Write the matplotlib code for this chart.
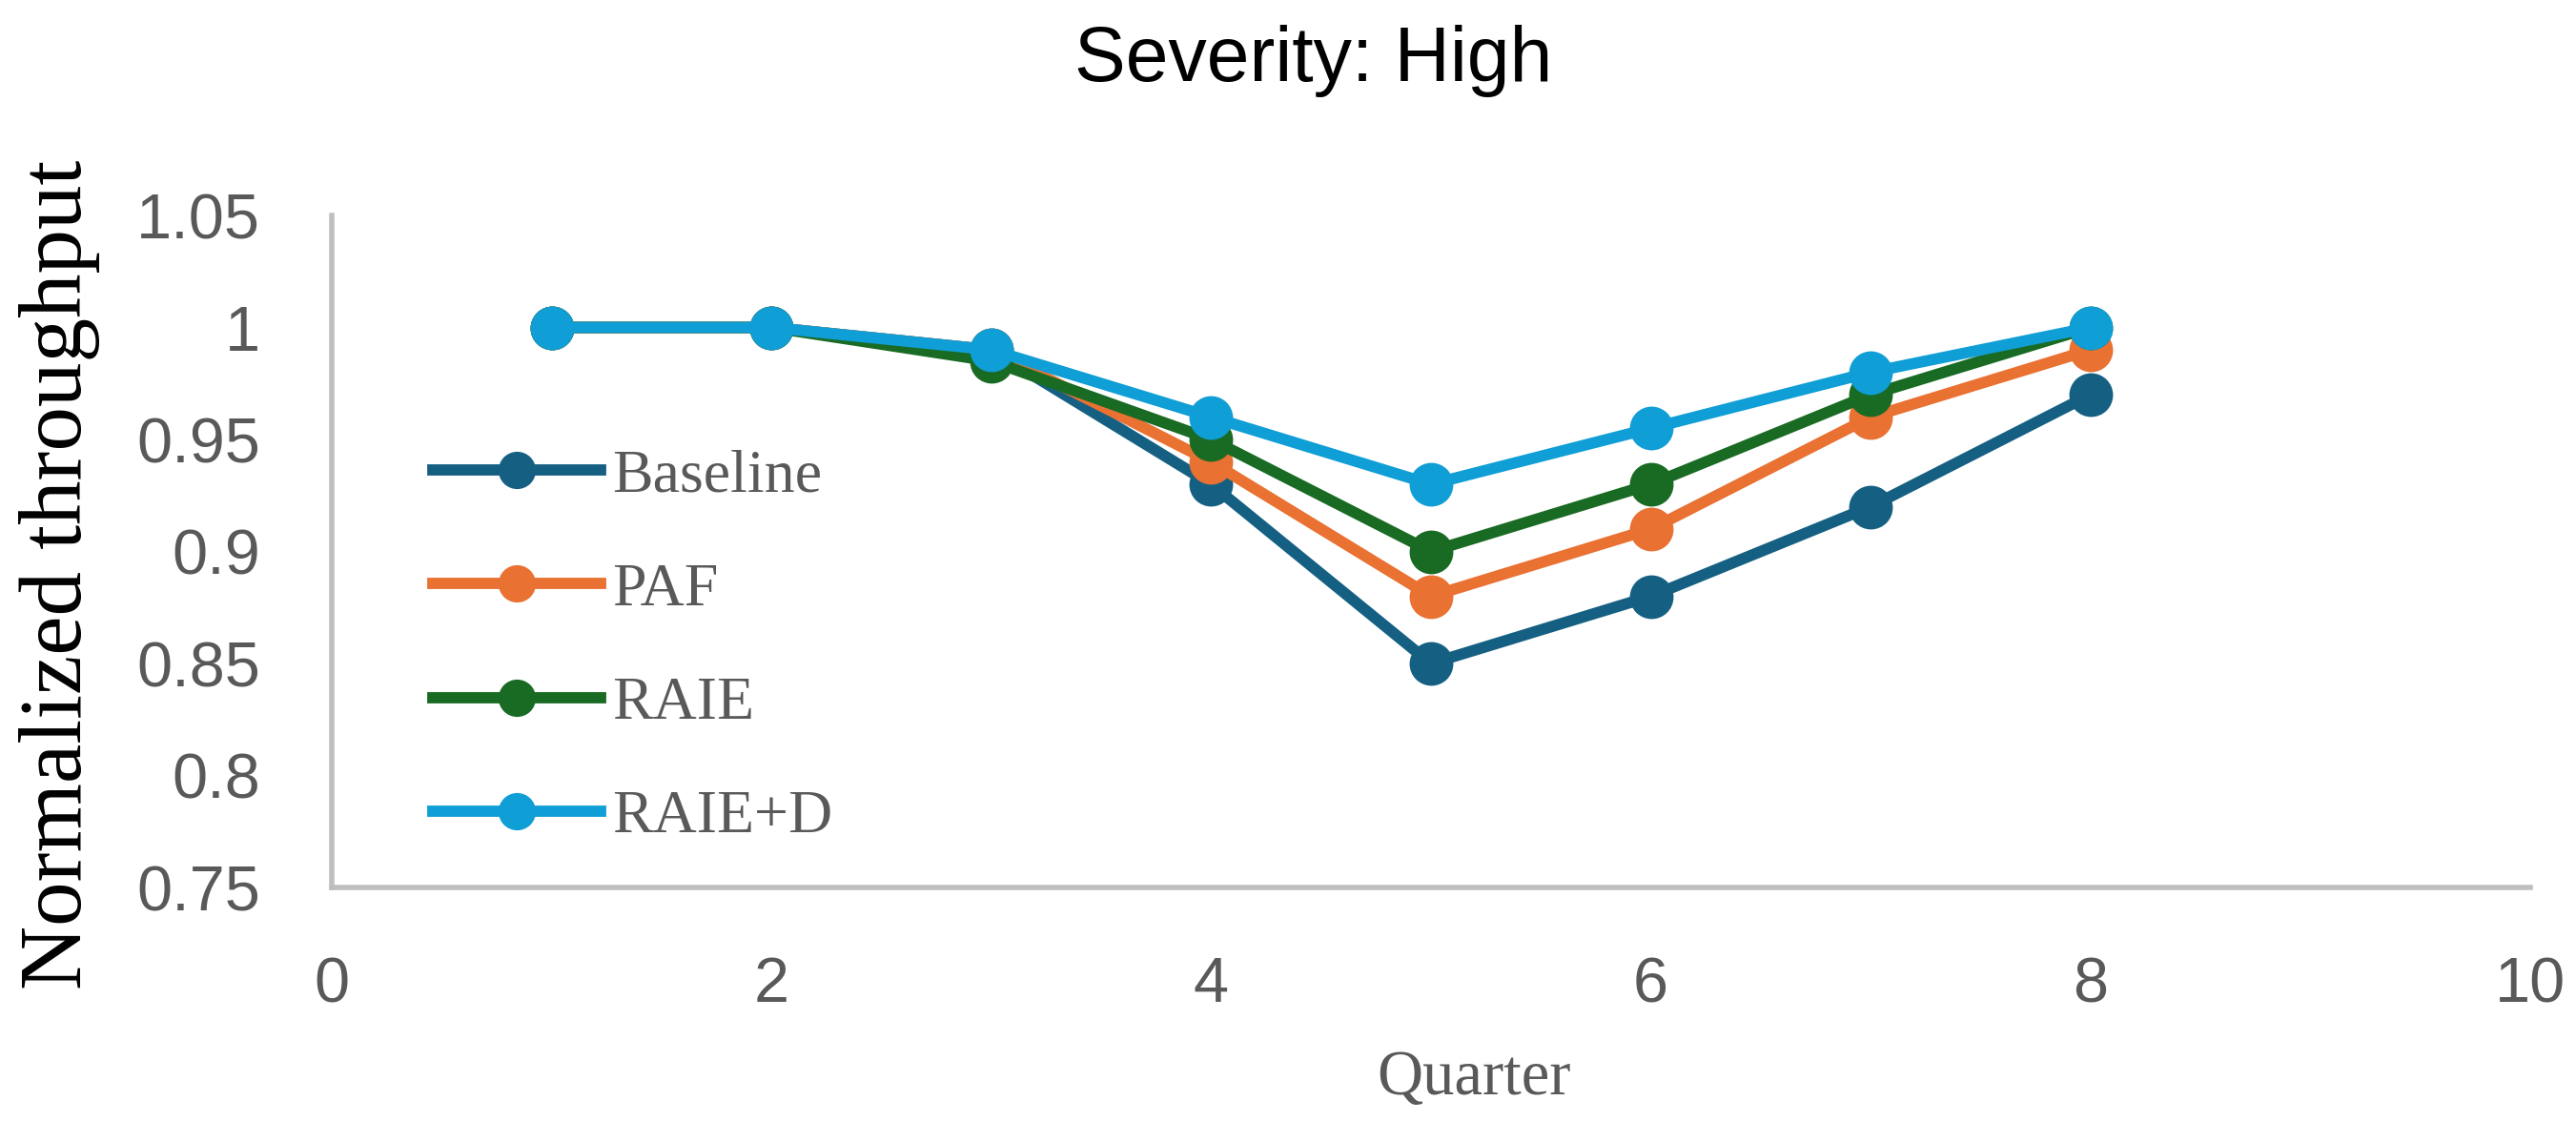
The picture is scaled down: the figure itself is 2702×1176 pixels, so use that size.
import numpy as np
import matplotlib.pyplot as plt
from matplotlib.ticker import FuncFormatter, MultipleLocator

# donnees
quarters = [1, 2, 3, 4, 5, 6, 7, 8]
baseline = [1.0, 1.0, 0.99, 0.93, 0.85, 0.88, 0.92, 0.97]
paf = [1.0, 1.0, 0.99, 0.94, 0.88, 0.91, 0.96, 0.99]
raie = [1.0, 1.0, 0.985, 0.95, 0.90, 0.93, 0.97, 1.0]
raie_d = [1.0, 1.0, 0.99, 0.96, 0.93, 0.955, 0.98, 1.0]

series_names = ["Baseline", "PAF", "RAIE", "RAIE+D"]
series_vals = [baseline, paf, raie, raie_d]
colors = ["#156082", "#E97132", "#196B24", "#0F9ED5"]

grey = "#595959"
serif = ["Liberation Serif", "DejaVu Serif"]
sans = ["Liberation Sans", "DejaVu Sans"]

fig = plt.figure(figsize=(27.02, 11.76), dpi=100)
ax = fig.add_axes([0.1288, 0.2083, 0.8534, 0.5995])

for name, vals, c in zip(series_names, series_vals, colors):
    ax.plot(quarters, vals, color=c, linewidth=8.5, marker="o", markersize=32,
            label=name, clip_on=False, solid_joinstyle="miter")

ax.set_xlim(0, 10)
ax.set_ylim(0.75, 1.05)
ax.xaxis.set_major_locator(MultipleLocator(2))
ax.yaxis.set_major_locator(MultipleLocator(0.05))
ax.yaxis.set_major_formatter(FuncFormatter(lambda v, p: "%g" % round(v, 2)))

for s in ["top", "right"]:
    ax.spines[s].set_visible(False)
for s in ["left", "bottom"]:
    ax.spines[s].set_color("#BFBFBF")
    ax.spines[s].set_linewidth(4)

ax.tick_params(axis="both", length=0, labelsize=48, labelcolor=grey)
ax.tick_params(axis="y", pad=54)
ax.tick_params(axis="x", pad=52)
for lab in ax.get_xticklabels() + ax.get_yticklabels():
    lab.set_family(sans)

fig.text(0.51, 0.946, "Severity: High", ha="center", va="center",
         fontsize=58, family=sans, color="black")
fig.text(0.023, 0.487, "Normalized throughput", rotation=90, ha="center",
         va="center", fontsize=67, family=serif, color="black")
fig.text(0.572, 0.038, "Quarter", ha="center", va="center",
         fontsize=48, family=serif, color=grey)

leg = ax.legend(loc="upper left", bbox_to_anchor=(0.168, 0.6),
                bbox_transform=fig.transFigure, frameon=False,
                prop={"family": serif, "size": 46}, labelcolor=grey,
                handlelength=2.75, handletextpad=0.2, labelspacing=0.95,
                borderpad=0, borderaxespad=0, markerscale=0.85)

fig.savefig("out.png", dpi=100)
